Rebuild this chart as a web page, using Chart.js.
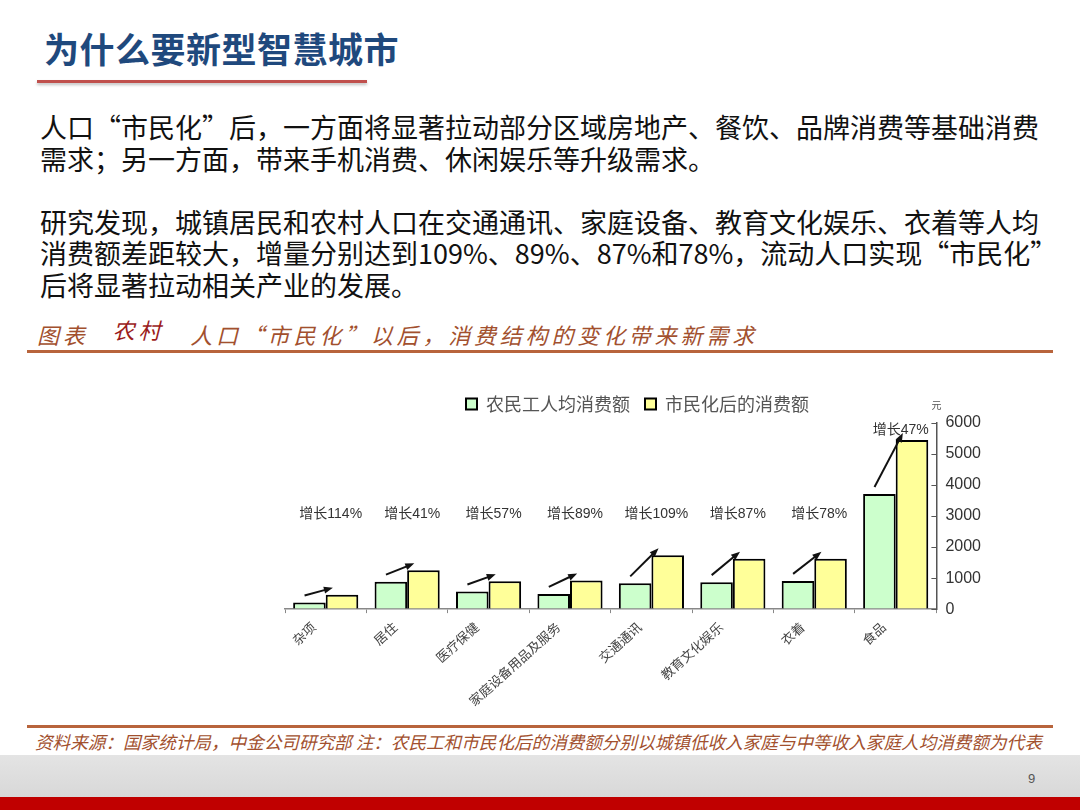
<!DOCTYPE html>
<html>
<head>
<meta charset="utf-8">
<script src="https://cdn.jsdelivr.net/npm/chart.js@4/dist/chart.umd.min.js"></script>
<style>
body { margin: 0; width: 1080px; height: 810px; position: relative; overflow: hidden; background: #fff; font-family: "Noto Sans CJK SC", sans-serif; }
.title { position: absolute; left: 44px; top: 22px; font-size: 35px; font-weight: 700; color: #1f497d; letter-spacing: 0.5px; }
.underline { position: absolute; left: 37px; top: 80px; width: 330px; height: 3px; background: #c0504d; box-shadow: 0 2px 3px rgba(0,0,0,0.25); }
.body { position: absolute; left: 40px; top: 111px; font-size: 27px; line-height: 31.5px; color: #111; }
.caption { position: absolute; left: 37px; top: 318px; font-size: 22px; font-style: italic; color: #a2502e; letter-spacing: 3.8px; white-space: nowrap; }
.caption .cun { position: relative; top: -5px; color: #9b1c1c; margin: 0 26px 0 24px; }
.line { position: absolute; left: 27px; width: 1026px; height: 3px; background: #b8643c; }
.source { position: absolute; left: 35px; top: 729px; font-size: 17.6px; font-style: italic; color: #a2502e; white-space: nowrap; }
.band { position: absolute; left: 0; top: 755px; width: 1080px; height: 42px; background: linear-gradient(#e4e4e4, #d8d8d8); }
.red { position: absolute; left: 0; top: 797px; width: 1080px; height: 13px; background: #c00000; }
.page { position: absolute; left: 1028px; top: 771px; font-size: 13px; color: #555; font-family: "Liberation Sans", Arial, sans-serif; }
#chart { position: absolute; left: 270px; top: 380px; }
</style>
</head>
<body>
<div class="title">为什么要新型智慧城市</div>
<div class="underline"></div>
<div class="body">
人口“市民化”后，一方面将显著拉动部分区域房地产、餐饮、品牌消费等基础消费<br>
需求；另一方面，带来手机消费、休闲娱乐等升级需求。<br>
<br>
研究发现，城镇居民和农村人口在交通通讯、家庭设备、教育文化娱乐、衣着等人均<br>
消费额差距较大，增量分别达到109%、89%、87%和78%，流动人口实现“市民化”<br>
后将显著拉动相关产业的发展。
</div>
<div class="caption">图表<span class="cun">农村</span>人口“市民化”以后，消费结构的变化带来新需求</div>
<div class="line" style="top:350px"></div>
<canvas id="chart" width="720" height="335"></canvas>
<div class="line" style="top:725px"></div>
<div class="source">资料来源：国家统计局，中金公司研究部 注：农民工和市民化后的消费额分别以城镇低收入家庭与中等收入家庭人均消费额为代表</div>
<div class="band"></div>
<div class="page">9</div>
<div class="red"></div>

<script>
// categories and values (元)
const categories = ['杂项', '居住', '医疗保健', '家庭设备用品及服务', '交通通讯', '教育文化娱乐', '衣着', '食品'];
const migrantSpend = [215, 885, 570, 490, 830, 870, 910, 3710];
const citizenSpend = [460, 1250, 895, 925, 1735, 1627, 1620, 5450];
const growthLabels = ['114%', '41%', '57%', '89%', '109%', '87%', '78%', '47%'];
const yTicks = [0, 1000, 2000, 3000, 4000, 5000, 6000];

const LABEL_LEVEL = 2850; // default height of the 增长 labels

const growthPlugin = {
    id: 'growth',
    afterDatasetsDraw(chart) {
        const ctx = chart.ctx;
        const ys = chart.scales.y;
        const g = chart.getDatasetMeta(0).data;
        const u = chart.getDatasetMeta(1).data;
        ctx.save();

        // small ticks on the inner side of the value axis
        ctx.strokeStyle = '#555';
        ctx.lineWidth = 1;
        yTicks.forEach(v => {
            const py = Math.round(ys.getPixelForValue(v)) + 0.5;
            ctx.beginPath();
            ctx.moveTo(ys.left - 5, py);
            ctx.lineTo(ys.left, py);
            ctx.stroke();
        });

        // unit
        ctx.fillStyle = '#555';
        ctx.font = '10px "Noto Sans CJK SC"';
        ctx.textAlign = 'center';
        ctx.textBaseline = 'middle';
        ctx.fillText('元', ys.left, chart.chartArea.top - 18);

        for (let i = 0; i < categories.length; i++) {
            const a = g[i], b = u[i];
            const x1 = a.x - a.width * 0.15, y1 = a.y - 7;
            const x2 = b.x - b.width * 0.28, y2 = b.y - 7;
            const ang = Math.atan2(y2 - y1, x2 - x1);
            ctx.strokeStyle = '#111';
            ctx.fillStyle = '#111';
            ctx.lineWidth = 2;
            ctx.beginPath();
            ctx.moveTo(x1, y1);
            ctx.lineTo(x2 - 6 * Math.cos(ang), y2 - 6 * Math.sin(ang));
            ctx.stroke();
            ctx.beginPath();
            ctx.moveTo(x2, y2);
            ctx.lineTo(x2 - 9 * Math.cos(ang) + 3.5 * Math.sin(ang), y2 - 9 * Math.sin(ang) - 3.5 * Math.cos(ang));
            ctx.lineTo(x2 - 9 * Math.cos(ang) - 3.5 * Math.sin(ang), y2 - 9 * Math.sin(ang) + 3.5 * Math.cos(ang));
            ctx.closePath();
            ctx.fill();

            const ly = Math.min(ys.getPixelForValue(LABEL_LEVEL), b.y - 3);
            ctx.fillStyle = '#333';
            ctx.font = '14px "Liberation Sans", "Noto Sans CJK SC"';
            ctx.textBaseline = 'bottom';
            ctx.fillText('增长' + growthLabels[i], (a.x + b.x) / 2 + 5, ly);
            ctx.textBaseline = 'middle';
        }
        ctx.restore();
    }
};

new Chart(document.getElementById('chart'), {
    type: 'bar',
    data: {
        labels: categories,
        datasets: [{
            label: '农民工人均消费额',
            data: migrantSpend,
            backgroundColor: '#ccffcc',
            borderColor: '#000',
            borderWidth: 2,
            categoryPercentage: 0.8,
            barPercentage: 1.0
        }, {
            label: '市民化后的消费额',
            data: citizenSpend,
            backgroundColor: '#ffff99',
            borderColor: '#000',
            borderWidth: 2,
            categoryPercentage: 0.8,
            barPercentage: 1.0
        }]
    },
    options: {
        responsive: false,
        animation: false,
        layout: { padding: { left: 15, right: 0, top: 0, bottom: 0 } },
        plugins: {
            legend: {
                position: 'top',
                labels: {
                    boxWidth: 11,
                    boxHeight: 11,
                    padding: 15,
                    color: '#555',
                    font: { family: '"Noto Sans CJK SC"', size: 18 }
                }
            },
            tooltip: { enabled: false }
        },
        scales: {
            x: {
                grid: { drawOnChartArea: false, tickLength: 4, color: '#888', offset: true },
                border: { color: '#888', width: 1.5 },
                ticks: {
                    autoSkip: false,
                    minRotation: 42,
                    maxRotation: 42,
                    labelOffset: -12,
                    padding: 6,
                    color: '#444',
                    font: { family: '"Noto Sans CJK SC"', size: 13 }
                }
            },
            y: {
                position: 'right',
                min: 0,
                max: 6000,
                afterBuildTicks: axis => { axis.ticks = yTicks.map(v => ({ value: v })); },
                ticks: {
                    padding: 9,
                    color: '#333',
                    font: { family: '"Liberation Sans", Arial', size: 16 },
                    callback: v => String(v)
                },
                grid: { drawOnChartArea: false, drawTicks: false },
                border: { color: '#555', width: 1.5 }
            }
        }
    },
    plugins: [growthPlugin]
});
</script>
</body>
</html>
